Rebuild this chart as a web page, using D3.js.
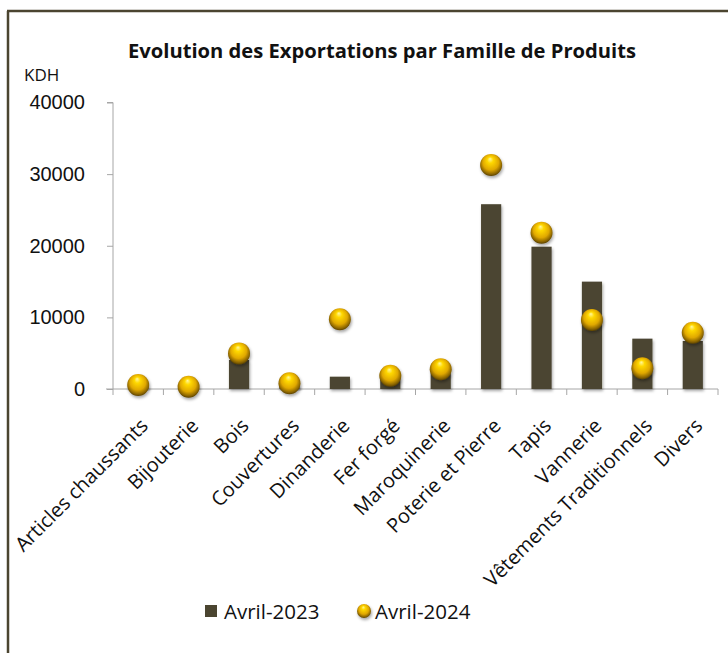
<html>
<head>
<meta charset="utf-8">
<script src="https://d3js.org/d3.v7.min.js"></script>
<style>
body { margin:0; background:#fff; }
#chart { display:block; }
</style>
</head>
<body>
<div id="chart"></div>
<script>
	// categories and the two series (KDH)
	var categories = ["Articles chaussants", "Bijouterie", "Bois", "Couvertures", "Dinanderie", "Fer forgé",
		"Maroquinerie", "Poterie et Pierre", "Tapis", "Vannerie", "Vêtements Traditionnels", "Divers"];
	var avril2023 = [450, 250, 4050, 550, 1720, 1500, 2200, 25800, 19870, 14990, 7030, 6700];
	var avril2024 = [560, 320, 4970, 800, 9730, 1860, 2750, 31280, 21830, 9640, 2890, 7860];
	var yTicks = [0, 10000, 20000, 30000, 40000];
	var seriesNames = ["Avril-2023", "Avril-2024"];

	var width = 728, height = 653;
	//plot area (note: "top" is taken by window.top)
	var plotLeft = 113, plotRight = 718, plotTop = 102.5, plotBottom = 389;
	var barColor = "#4b4530";

	var svg = d3.select("#chart").append("svg")
		.attr("width", width)
		.attr("height", height);

	//gold ball gradient + soft shadow
	var defs = svg.append("defs");
	var grad = defs.append("radialGradient")
		.attr("id", "gold")
		.attr("cx", "50%").attr("cy", "45%").attr("r", "55%")
		.attr("fx", "45%").attr("fy", "22%");
	[{o:"0%", c:"#fff8a0"}, {o:"25%", c:"#ffd800"}, {o:"65%", c:"#e0a800"}, {o:"90%", c:"#8a6400"}, {o:"100%", c:"#5a4200"}]
		.forEach(function(s){ grad.append("stop").attr("offset", s.o).attr("stop-color", s.c); });
	var shadow = defs.append("filter").attr("id", "shadow")
		.attr("x", "-50%").attr("y", "-50%").attr("width", "200%").attr("height", "200%");
	shadow.append("feDropShadow").attr("dx", 1).attr("dy", 2).attr("stdDeviation", 1.6)
		.attr("flood-color", "#000").attr("flood-opacity", 0.35);

	//frame: top and left lines only
	svg.append("line").attr("x1", 7).attr("x2", width).attr("y1", 11).attr("y2", 11)
		.attr("stroke", barColor).attr("stroke-width", 2.5);
	svg.append("line").attr("x1", 8).attr("x2", 8).attr("y1", 11).attr("y2", height)
		.attr("stroke", barColor).attr("stroke-width", 2.5);

	svg.append("text")
		.attr("x", 382).attr("y", 58)
		.attr("text-anchor", "middle")
		.attr("textLength", 508)
		.attr("lengthAdjust", "spacingAndGlyphs")
		.style("font", "bold 19.5px 'Open Sans', sans-serif")
		.attr("fill", "#111")
		.text("Evolution des Exportations  par Famille de Produits");

	svg.append("text")
		.attr("x", 24).attr("y", 81)
		.style("font", "17px 'Open Sans', sans-serif")
		.attr("fill", "#111")
		.text("KDH");

	var x = d3.scaleBand().domain(categories).range([plotLeft, plotRight]);
	var y = d3.scaleLinear().domain([0, 40000]).range([plotBottom, plotTop]);

	//y axis
	var yAxis = svg.append("g")
		.attr("transform", "translate(" + plotLeft + ",0)")
		.call(d3.axisLeft(y).tickValues(yTicks).tickSize(6).tickPadding(22).tickFormat(d3.format("d")));
	yAxis.selectAll("path, line").attr("stroke", "#a6a6a6");
	yAxis.selectAll("text")
		.style("font", "20px 'Liberation Sans', Arial, sans-serif")
		.attr("fill", "#111");
	yAxis.select(".domain").attr("d", "M-6," + y(40000) + "H0V" + plotBottom);

	//x axis: ticks between categories
	var xg = svg.append("g").attr("transform", "translate(0," + plotBottom + ")");
	xg.append("line").attr("x1", plotLeft - 7).attr("x2", plotRight).attr("stroke", "#a6a6a6");
	xg.selectAll(".tk")
		.data(categories.concat(["end"]))
		.enter().append("line")
		.attr("x1", function(d, i){ return plotLeft + i * x.step(); })
		.attr("x2", function(d, i){ return plotLeft + i * x.step(); })
		.attr("y1", 0).attr("y2", 6)
		.attr("stroke", "#a6a6a6");

	xg.selectAll(".lbl")
		.data(categories)
		.enter().append("text")
		.attr("transform", function(d){
			return "translate(" + (x(d) + x.bandwidth() / 2 + 11) + ",38) rotate(-45)";
		})
		.attr("text-anchor", "end")
		.style("font", "20px 'Open Sans', sans-serif")
		.attr("fill", "#111")
		.text(function(d){ return d; });

	//bars
	var bw = x.bandwidth() * 0.4;
	svg.append("g").selectAll("rect")
		.data(avril2023)
		.enter().append("rect")
		.attr("x", function(d, i){ return x(categories[i]) + (x.bandwidth() - bw) / 2; })
		.attr("y", function(d){ return y(d); })
		.attr("width", bw)
		.attr("height", function(d){ return plotBottom - y(d); })
		.attr("fill", barColor)
		.attr("filter", "url(#shadow)");

	//balls
	svg.append("g").selectAll("circle")
		.data(avril2024)
		.enter().append("circle")
		.attr("cx", function(d, i){ return x(categories[i]) + x.bandwidth() / 2; })
		.attr("cy", function(d){ return y(d); })
		.attr("r", 11)
		.attr("fill", "url(#gold)")
		.attr("filter", "url(#shadow)");

	//legend
	var lg = svg.append("g").style("font", "20.5px 'Open Sans', sans-serif");
	lg.append("rect").attr("x", 205).attr("y", 605).attr("width", 12).attr("height", 12).attr("fill", barColor);
	lg.append("text").attr("x", 224).attr("y", 619).attr("fill", "#111").text(seriesNames[0]);
	lg.append("circle").attr("cx", 364).attr("cy", 611).attr("r", 7).attr("fill", "url(#gold)").attr("filter", "url(#shadow)");
	lg.append("text").attr("x", 375).attr("y", 619).attr("fill", "#111").text(seriesNames[1]);
</script>
</body>
</html>
